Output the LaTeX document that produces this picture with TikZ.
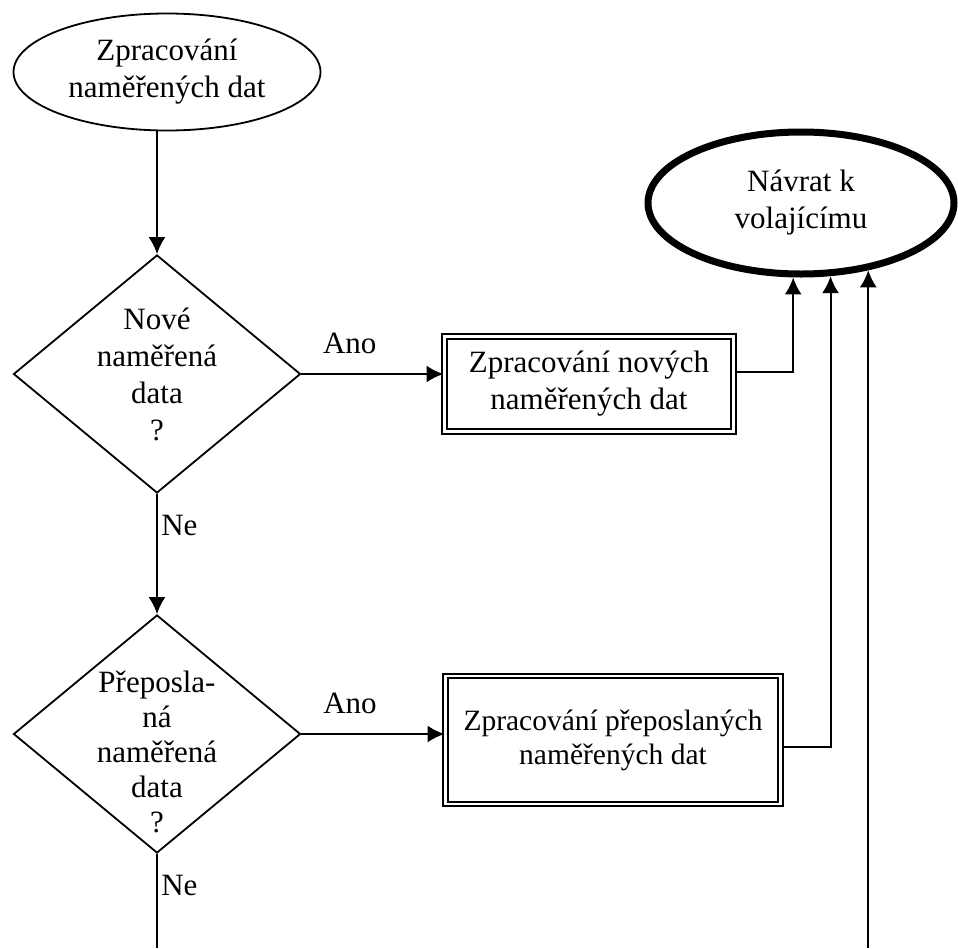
\documentclass[tikz,border=0pt]{standalone}
\usepackage{fontspec}
\setmainfont{Liberation Serif}
\usepackage{tikz}
\usetikzlibrary{shapes.geometric,arrows.meta,positioning}

\begin{document}
\begin{tikzpicture}[x=1pt,y=-1pt,font=\fontsize{31}{37}\selectfont]
  \tikzstyle{terminal}=[ellipse,draw,line width=1.8pt,minimum width=307pt,minimum height=117pt,inner sep=-3pt,align=center]
  \tikzstyle{decision}=[diamond,draw,line width=1.8pt,minimum width=287pt,minimum height=238pt,inner sep=-30pt,align=center]
  \tikzstyle{process}=[rectangle,draw,line width=2pt,double,double distance=2.4pt,align=center]
  \tikzstyle{flow}=[-{Latex[length=17pt,width=17pt]},line width=2pt]
  \useasboundingbox (0,0) rectangle (958,948);
  \node[terminal] (zpracovani) at (167,72) {Zpracování\\naměřených dat};
  \node[decision] (nove) at (157,374) {Nové\\naměřená\\data\\?};
  \node[decision,font=\fontsize{31}{35}\selectfont] (prep) at (157,734) {\rule{0pt}{58pt}Přeposla-\\ná\\naměřená\\data\\?};
  \node[process,minimum width=289pt,minimum height=95pt] (novadata) at (589,384) {Zpracování nových\\naměřených dat};
  \node[process,minimum width=335pt,minimum height=128pt,font=\fontsize{29.5}{34}\selectfont] (prepdata) at (613,740) {Zpracování přeposlaných\\naměřených dat};
  \node[terminal,line width=7pt,minimum width=306pt,minimum height=142pt] (navrat) at (801,203) {Návrat k\\volajícímu};
  \coordinate (dno) at (0,948);
  % hlavni vetev
  \draw[flow] (nove.north |- zpracovani.south) -- (nove.north);
  \draw[flow] (nove.south) -- node[pos=0.26,right] {Ne} (prep.north);
  \draw[line width=2pt] (prep.south) -- node[pos=0.34,right] {Ne} (prep.south |- dno);
  % vetve Ano
  \draw[flow] (nove.east) -- node[pos=0.34,above=16pt] {Ano} (nove.east -| novadata.west);
  \draw[flow] (prep.east) -- node[pos=0.34,above=16pt] {Ano} (prep.east -| prepdata.west);
  % navrat
  \draw[flow] ([yshift=12pt]novadata.east) -| (navrat.-96);
  \draw[flow] ([yshift=-7pt]prepdata.east) -| (navrat.-68);
  \draw[flow] (navrat.-45 |- dno) -- (navrat.-45);
\end{tikzpicture}
\end{document}
